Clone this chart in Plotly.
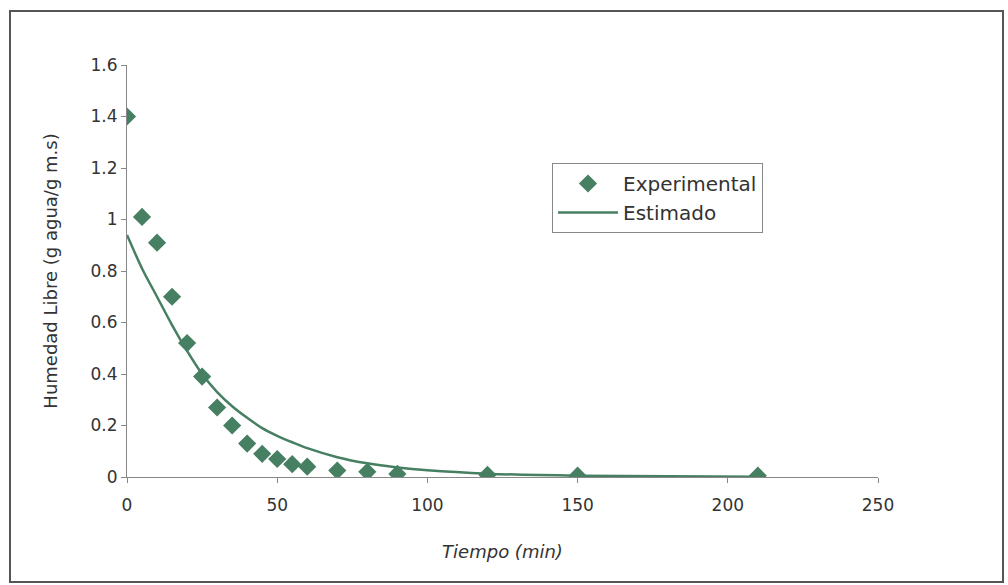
import plotly.graph_objects as go

t_exp = [0, 5, 10, 15, 20, 25, 30, 35, 40, 45, 50, 55, 60, 70, 80, 90, 120, 150, 210]
h_exp = [1.40, 1.01, 0.91, 0.70, 0.52, 0.39, 0.27, 0.20, 0.13, 0.09, 0.07, 0.05, 0.04, 0.025, 0.02, 0.012, 0.008, 0.005, 0.005]

t_est = [0, 5, 10, 15, 20, 25, 30, 35, 40, 45, 50, 55, 60, 70, 80, 90, 100, 120, 150, 210]
h_est = [0.94, 0.81, 0.70, 0.59, 0.49, 0.40, 0.33, 0.275, 0.23, 0.19, 0.16, 0.135, 0.112, 0.077, 0.053, 0.037, 0.026, 0.013, 0.005, 0.001]

x_ticks = [0, 50, 100, 150, 200, 250]
y_ticks = [0, 0.2, 0.4, 0.6, 0.8, 1, 1.2, 1.4, 1.6]
y_labels = ["0", "0.2", "0.4", "0.6", "0.8", "1", "1.2", "1.4", "1.6"]

green = "#467f62"

fig = go.Figure()
fig.add_trace(go.Scatter(
    x=t_exp, y=h_exp, mode="markers", name="Experimental",
    marker=dict(symbol="diamond", size=14, color=green),
))
fig.add_trace(go.Scatter(
    x=t_est, y=h_est, mode="lines", name="Estimado",
    line=dict(color=green, width=2.5, shape="spline", smoothing=0.8),
))

L, R, T, B = 127, 130, 65, 108
W, H = 1008, 585
pw, ph = W - L - R, H - T - B

def px_x(p):
    return (p - L) / pw

def px_y(p):
    return (H - B - p) / ph

fig.add_shape(type="rect", xref="paper", yref="paper",
              x0=px_x(10), x1=px_x(1003), y0=px_y(582), y1=px_y(11),
              line=dict(color="#555555", width=2), layer="below")

fig.update_layout(
    width=W, height=H,
    margin=dict(l=L, r=R, t=T, b=B),
    paper_bgcolor="white", plot_bgcolor="white",
    font=dict(family="DejaVu Sans", size=17, color="#333333"),
    showlegend=True,
    legend=dict(
        x=px_x(552), y=px_y(163), xanchor="left", yanchor="top",
        bordercolor="#888888", borderwidth=1, bgcolor="white",
        font=dict(size=20, color="#333333"),
        itemwidth=60, tracegroupgap=0,
    ),
    xaxis=dict(
        range=[0, 250], tickvals=x_ticks, ticks="outside", ticklen=5,
        tickcolor="#888888", showline=True, linecolor="#888888", linewidth=1,
        showgrid=False, zeroline=False, ticklabelstandoff=8,
        title=dict(text="<i>Tiempo (min)</i>", font=dict(size=18), standoff=30),
    ),
    yaxis=dict(
        range=[0, 1.6], tickvals=y_ticks, ticktext=y_labels, ticks="outside",
        ticklen=5, tickcolor="#888888", showline=True, linecolor="#888888",
        linewidth=1, showgrid=False, zeroline=False,
        title=dict(text="Humedad Libre (g agua/g m.s)", font=dict(size=18), standoff=28),
    ),
)

fig.write_html("out.html")
